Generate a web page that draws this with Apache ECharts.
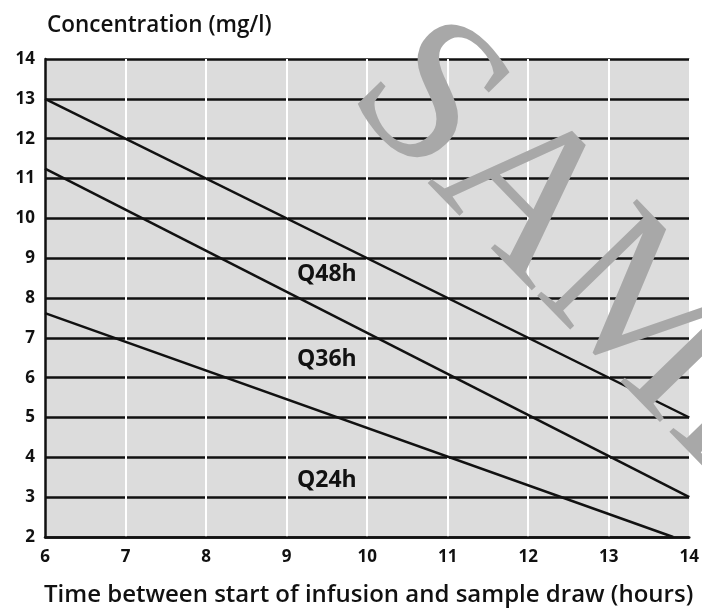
<!DOCTYPE html>
<html>
<head>
<meta charset="utf-8">
<style>
  html, body { margin: 0; padding: 0; background: #fff; }
  #chart { width: 702px; height: 610px; }
</style>
<script src="https://cdn.jsdelivr.net/npm/echarts@6/dist/echarts.min.js"></script>
</head>
<body>
<div id="chart"></div>
<script>
// hours since start of infusion
var xTicks = [6, 7, 8, 9, 10, 11, 12, 13, 14]
// concentration in mg/l, one line per dosing interval
var seriesNames = ['Q48h', 'Q36h', 'Q24h']
var q48h = [[6, 13], [14, 5]]
var q36h = [[6, 11.25], [14, 3]]
var q24h = [[6, 7.62], [13.8, 2]]

var font = '"Open Sans"'
var chart = echarts.init(document.getElementById('chart'))

// where the series names sit inside the plot
var labelAt = { Q48h: [9.5, 8.58], Q36h: [9.5, 6.45], Q24h: [9.5, 3.42] }

function lineSeries(name, data) {
  return {
    name: name,
    type: 'line',
    data: data,
    showSymbol: false,
    silent: true,
    animation: false,
    lineStyle: { color: '#111', width: 2.5 },
    markPoint: {
      symbol: 'circle',
      symbolSize: 0,
      animation: false,
      data: [{
        coord: labelAt[name],
        label: {
          show: true,
          formatter: name,
          color: '#111',
          fontFamily: font,
          fontWeight: 'bold',
          fontSize: 23
        }
      }]
    }
  }
}

var options = {
  animation: false,
  grid: {
    left: 45,
    right: 12,
    top: 59,
    bottom: 73,
    show: true,
    backgroundColor: '#dcdcdc',
    borderWidth: 0
  },
  xAxis: {
    type: 'value',
    min: 6,
    max: 14,
    interval: 1,
    axisLine: { lineStyle: { color: '#111', width: 2.5 } },
    axisTick: { show: false },
    axisLabel: {
      color: '#111',
      fontFamily: font,
      fontWeight: 'bold',
      fontSize: 17,
      margin: 12
    },
    splitLine: { show: true, lineStyle: { color: '#fff', width: 2 } }
  },
  yAxis: {
    type: 'value',
    min: 2,
    max: 14,
    interval: 1,
    axisLine: { show: true, lineStyle: { color: '#111', width: 2.5 } },
    axisTick: { show: false },
    axisLabel: {
      color: '#111',
      fontFamily: font,
      fontWeight: 'bold',
      fontSize: 17,
      margin: 10
    },
    splitLine: { show: true, lineStyle: { color: '#111', width: 2.5 } }
  },
  graphic: [
    {
      type: 'text',
      left: 47,
      top: 14,
      style: {
        text: 'Concentration (mg/l)',
        fill: '#111',
        font: '600 22.5px ' + font
      }
    },
    {
      type: 'text',
      left: 44,
      top: 583,
      style: {
        text: 'Time between start of infusion and sample draw (hours)',
        fill: '#111',
        font: '600 24px ' + font
      }
    },
    {
      // watermark
      type: 'text',
      x: 308,
      y: 132,
      rotation: -0.8,
      z: 100,
      style: {
        text: 'SAMPLE',
        fill: '#a8a8a8',
        font: '212px "Liberation Serif"',
        verticalAlign: 'bottom'
      }
    }
  ],
  series: [
    lineSeries(seriesNames[0], q48h),
    lineSeries(seriesNames[1], q36h),
    lineSeries(seriesNames[2], q24h)
  ]
}
chart.setOption(options)
window.addEventListener('resize', () => {
  chart.resize()
}, false)
</script>
</body>
</html>
